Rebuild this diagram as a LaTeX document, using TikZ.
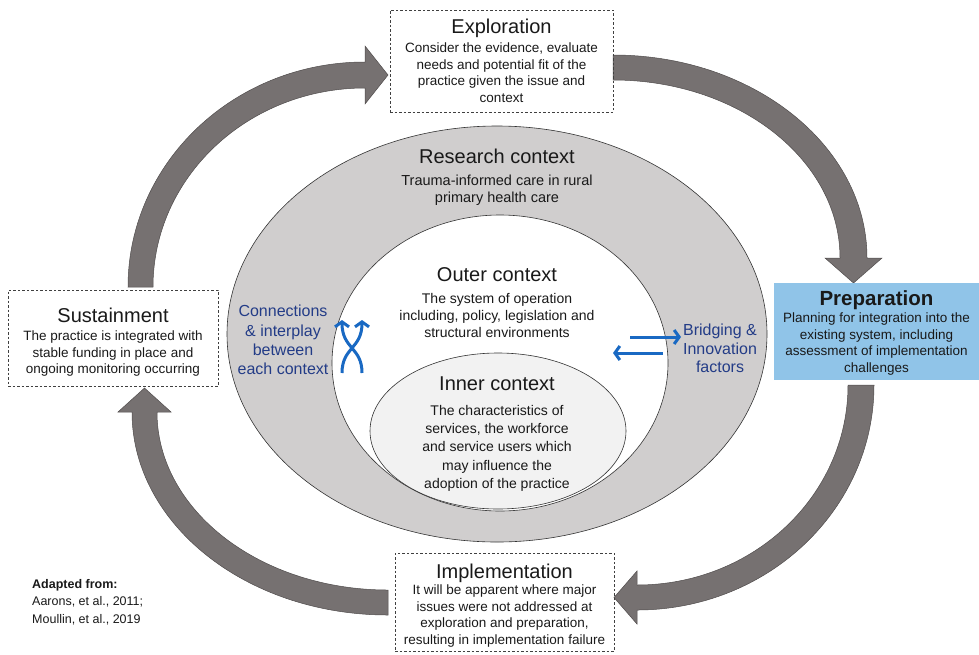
\documentclass[tikz,border=0pt]{standalone}
\usepackage{fontspec}
\setmainfont{Liberation Sans}
\usetikzlibrary{arrows.meta}

\definecolor{arrowgray}{RGB}{118,113,113}
\definecolor{arrowedge}{RGB}{80,76,76}
\definecolor{researchgray}{RGB}{208,206,206}
\definecolor{innergray}{RGB}{242,242,242}
\definecolor{prepblue}{RGB}{144,196,232}
\definecolor{navy}{RGB}{35,60,135}
\definecolor{iconblue}{RGB}{25,105,195}
\definecolor{ink}{RGB}{25,25,25}

\begin{document}
\begin{tikzpicture}[x=1pt,y=-1pt,
  phase/.style={draw=black!75, dash pattern=on 2.5pt off 2pt, line width=0.7pt, inner sep=0pt},
  ring/.style={draw=black!80, line width=0.6pt},
  cyclearrow/.style={fill=arrowgray, draw=arrowedge, line width=0.5pt, line join=miter},
  title/.style={anchor=north, inner sep=0pt, text=ink, font=\fontsize{20}{22}\selectfont},
  body/.style={anchor=north, inner sep=0pt, align=center, text=ink, font=\fontsize{13.5}{16.5}\selectfont},
  ctxbody/.style={anchor=north, inner sep=0pt, align=center, text=ink, font=\fontsize{14}{17}\selectfont},
  bluelabel/.style={anchor=north, inner sep=0pt, align=center, text=navy, font=\fontsize{16}{19}\selectfont},
  iconarrow/.style={draw=iconblue, line width=3pt, -{Straight Barb[length=5pt,width=14pt]}},
]
\useasboundingbox (0,0) rectangle (979,654);

% nested contexts
\filldraw[ring, fill=researchgray] (497,334) ellipse [x radius=270, y radius=208];
\filldraw[ring, fill=white] (500,363) ellipse [x radius=168, y radius=148];
\filldraw[ring, fill=innergray] (498,431) ellipse [x radius=128, y radius=78];

% cycle arrows
% sustainment -> exploration
\filldraw[cyclearrow] (128,287) .. controls (128,162.7) and (234.1,62) .. (365,62)
  -- (365,46) -- (388,75) -- (365,104) -- (365,88)
  .. controls (247.9,88) and (153,177.1) .. (153,287) -- cycle;
% exploration -> preparation
\filldraw[cyclearrow] (613,55) .. controls (753.3,55) and (867,145.9) .. (867,258)
  -- (882,258) -- (853.5,283) -- (825,258) -- (840,258)
  .. controls (840,159.7) and (738.4,80) .. (613,80) -- cycle;
% preparation -> implementation
\filldraw[cyclearrow] (874,385) .. controls (874,509.3) and (767.9,610) .. (637,610)
  -- (637,624) -- (614,597.5) -- (637,571) -- (637,585)
  .. controls (753.5,585) and (848,495.5) .. (848,385) -- cycle;
% implementation -> sustainment
\filldraw[cyclearrow] (388,615) .. controls (246.6,615) and (132,524.1) .. (132,412)
  -- (118,412) -- (144.5,388) -- (171,412) -- (157,412)
  .. controls (157,510.3) and (260.4,590) .. (388,590) -- cycle;

% phase boxes
\node[phase, minimum width=223pt, minimum height=102pt] (explore) at (501.5,61) {};
\node[fill=prepblue, inner sep=0pt, minimum width=205pt, minimum height=97pt] (prepare) at (876.5,331.5) {};
\node[phase, minimum width=210pt, minimum height=96pt] (sustain) at (113,338) {};
\node[phase, minimum width=219pt, minimum height=98pt] (implement) at (504.5,602) {};

% phase texts
\node[title] (exploreT) at (501.5,19) {Exploration};
\node[body] (exploreB) at (501.5,43) {Consider the evidence, evaluate\\needs and potential fit of the\\practice given the issue and\\context};

\node[title, font=\fontsize{20.5}{22}\selectfont\bfseries] (prepareT) at (876.5,290) {Preparation};
\node[body] (prepareB) at (876.5,313) {Planning for integration into the\\existing system, including\\assessment of implementation\\challenges};

\node[title] (sustainT) at (113,308) {Sustainment};
\node[body] (sustainB) at (113,331) {The practice is integrated with\\stable funding in place and\\ongoing monitoring occurring};

\node[title] (implementT) at (504.5,564) {Implementation};
\node[body] (implementB) at (504.5,585) {It will be apparent where major\\issues were not addressed at\\exploration and preparation,\\resulting in implementation failure};

% context texts
\node[title] (researchT) at (497,149) {Research context};
\node[ctxbody, font=\fontsize{14.5}{17}\selectfont] (researchB) at (497,175) {Trauma-informed care in rural\\primary health care};

\node[title] (outerT) at (497,267) {Outer context};
\node[ctxbody] (outerB) at (497,293) {The system of operation\\including, policy, legislation and\\structural environments};

\node[title] (innerT) at (497,377) {Inner context};
\node[ctxbody, font=\fontsize{14}{18.3}\selectfont] (innerB) at (497,405) {The characteristics of\\services, the workforce\\and service users which\\may influence the\\adoption of the practice};

% side labels
\node[bluelabel, font=\fontsize{16}{19.3}\selectfont] (connect) at (283,305) {Connections\\\& interplay\\between\\each context};
\node[bluelabel, font=\fontsize{16}{18.5}\selectfont] (bridge) at (720,324) {Bridging \&\\Innovation\\factors};

% interplay icon
\coordinate (xa0) at (342,373);
\coordinate (xa1) at (362,320);
\coordinate (xb0) at (362,373);
\coordinate (xb1) at (342,320);
\draw[iconarrow] (xa0) .. controls (342,347) and (362,349) .. (xa1);
\draw[iconarrow] (xb0) .. controls (362,347) and (342,349) .. (xb1);

% bridging icon
\coordinate (br0) at (630,337);
\coordinate (br1) at (681,337);
\coordinate (bl0) at (663,353);
\coordinate (bl1) at (613,353);
\draw[iconarrow] (br0) -- (br1);
\draw[iconarrow] (bl0) -- (bl1);

% source note
\node[anchor=north west, inner sep=0pt, align=left, text=ink, font=\fontsize{12.5}{17.5}\selectfont] (source) at (32,579) {\textbf{Adapted from:}\\Aarons, et al., 2011;\\Moullin, et al., 2019};
\end{tikzpicture}
\end{document}
